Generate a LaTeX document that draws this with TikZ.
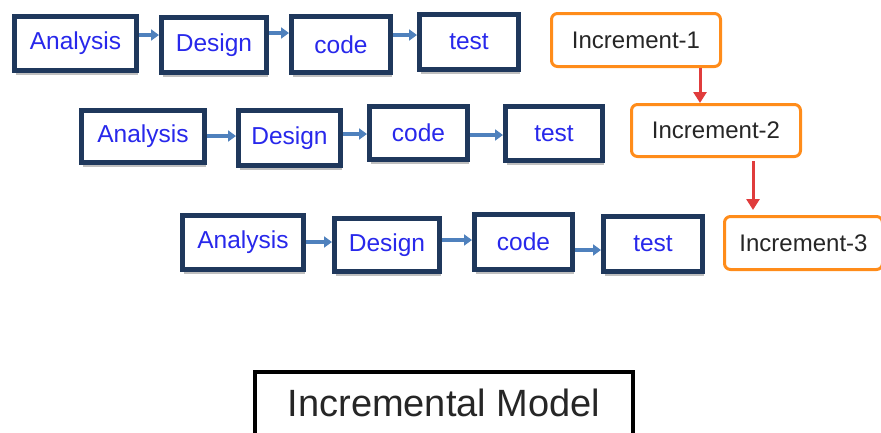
\documentclass[tikz,border=0pt]{standalone}
\usepackage{fontspec}
\setmainfont{Liberation Sans}
\usetikzlibrary{arrows.meta,shadows}
\definecolor{navy}{RGB}{31,56,92}
\definecolor{txtblue}{RGB}{40,40,235}
\definecolor{incorange}{RGB}{255,140,26}
\definecolor{arrblue}{RGB}{79,129,189}
\definecolor{arrred}{RGB}{224,60,60}
\tikzset{
  pbox/.style={draw=navy, line width=5pt, fill=white, text=txtblue,
    font=\fontsize{24.5}{29}\selectfont, inner sep=0pt,
    drop shadow={shadow xshift=1pt, shadow yshift=-4pt, opacity=0.25, fill=black}},
  ibox/.style={draw=incorange, line width=3pt, fill=white, rounded corners=6pt,
    text=black!85, font=\fontsize{24}{29}\selectfont, inner sep=0pt},
  tbox/.style={draw=black, line width=4pt, fill=white, text=black!85,
    font=\fontsize{38}{44}\selectfont, inner sep=0pt},
  barr/.style={draw=arrblue, line width=3.5pt, -{Triangle[length=8pt,width=11pt]}},
  rarr/.style={draw=arrred, line width=3pt, -{Triangle[length=11pt,width=13pt]}}
}
\begin{document}
\begin{tikzpicture}[x=1pt,y=-1pt]
\useasboundingbox (0,0) rectangle (881,432);
% Row 1
\node[pbox, minimum width=122pt, minimum height=54pt] (a1) at (75.5,43.5) {Analysis};
\node[pbox, minimum width=105pt, minimum height=55pt] (d1) at (214,45) {Design};
\node[pbox, minimum width=99pt, minimum height=56pt] (c1) at (341,44.5) {code};
\node[pbox, minimum width=99pt, minimum height=55pt] (t1) at (469,42) {test};
\node[ibox, minimum width=169pt, minimum height=53pt] (i1) at (636,40) {Increment-1};
% Row 2
\node[pbox, minimum width=123pt, minimum height=52pt] (a2) at (143,136.5) {Analysis};
\node[pbox, minimum width=102pt, minimum height=55pt] (d2) at (289.5,138) {Design};
\node[pbox, minimum width=98pt, minimum height=53pt] (c2) at (418.5,133) {code};
\node[pbox, minimum width=97pt, minimum height=54pt] (t2) at (554,133.5) {test};
\node[ibox, minimum width=169pt, minimum height=52pt] (i2) at (716,130.5) {Increment-2};
% Row 3
\node[pbox, minimum width=121pt, minimum height=54pt] (a3) at (243,242.5) {Analysis};
\node[pbox, minimum width=105pt, minimum height=53pt] (d3) at (387,245) {Design};
\node[pbox, minimum width=98pt, minimum height=55pt] (c3) at (523.5,242) {code};
\node[pbox, minimum width=99pt, minimum height=55pt] (t3) at (653,244) {test};
\node[ibox, minimum width=158pt, minimum height=53pt] (i3) at (803.5,243) {Increment-3};
% Title
\node[tbox, minimum width=378pt, minimum height=66pt] (title) at (444,405) {\raisebox{4pt}{Incremental Model}};
% Blue arrows row 1
\draw[barr] ([yshift=8.5pt]a1.east) -- ([yshift=8.5pt]a1.east -| d1.west);
\draw[barr] ([yshift=12pt]d1.east) -- ([yshift=12pt]d1.east -| c1.west);
\draw[barr] ([yshift=9.5pt]c1.east) -- ([yshift=9.5pt]c1.east -| t1.west);
% Row 2
\draw[barr] ([yshift=0.5pt]a2.east) -- ([yshift=0.5pt]a2.east -| d2.west);
\draw[barr] ([yshift=4pt]d2.east) -- ([yshift=4pt]d2.east -| c2.west);
\draw[barr] ([yshift=-2pt]c2.east) -- ([yshift=-2pt]c2.east -| t2.west);
% Row 3
\draw[barr] ([yshift=0.5pt]a3.east) -- ([yshift=0.5pt]a3.east -| d3.west);
\draw[barr] ([yshift=5pt]d3.east) -- ([yshift=5pt]d3.east -| c3.west);
\draw[barr] ([yshift=-8pt]c3.east) -- ([yshift=-8pt]c3.east -| t3.west);
% Red arrows
\draw[rarr] ([xshift=64pt]i1.south) -- ([xshift=64pt]i1.south |- i2.north);
\draw[rarr] ([xshift=37pt,yshift=-3pt]i2.south) -- ([xshift=37pt,yshift=5pt]i2.south |- i3.north);
\end{tikzpicture}
\end{document}
